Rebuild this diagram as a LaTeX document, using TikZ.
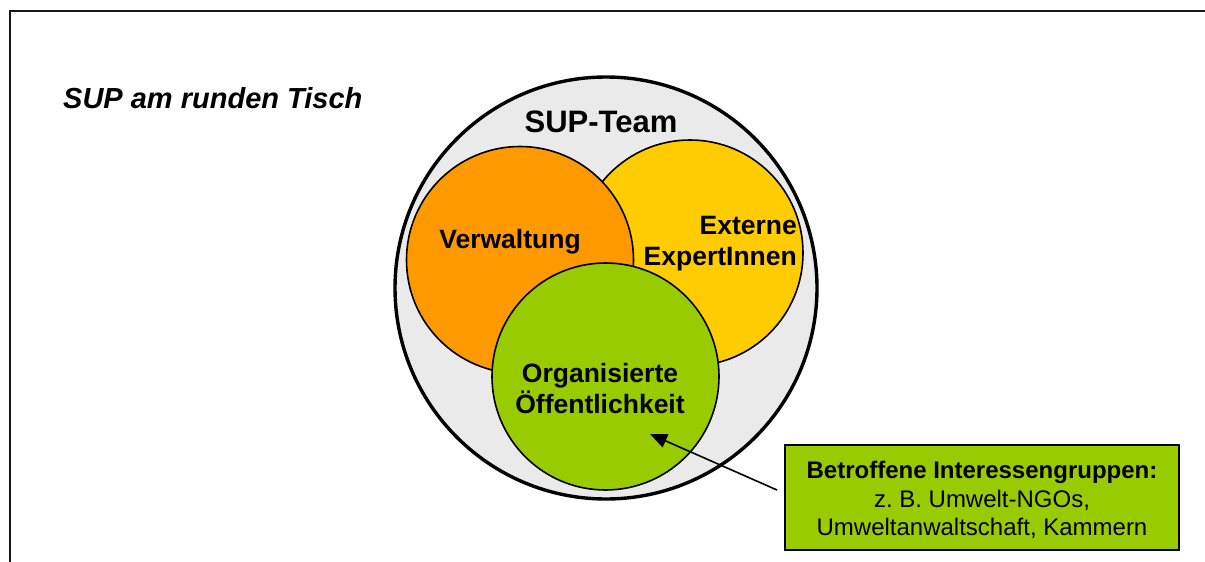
\documentclass[tikz,border=0pt]{standalone}
\usepackage{fontspec}
\setmainfont{Liberation Sans}
\usetikzlibrary{arrows.meta}
\frenchspacing
\definecolor{teamgray}{HTML}{EAEAEA}
\definecolor{vorange}{HTML}{FF9900}
\definecolor{eyellow}{HTML}{FFCC00}
\definecolor{ogreen}{HTML}{99CC00}
\tikzset{
  ring/.style={circle, draw=black, line width=1.6pt, inner sep=0pt, minimum size=#1},
  lbl/.style={font=\fontsize{26.5}{31}\selectfont\bfseries, inner sep=0pt},
  infobox/.style={draw=black, line width=2.4pt, fill=ogreen, minimum width=394pt, minimum height=105pt, inner sep=0pt},
  infotext/.style={font=\fontsize{24}{28.5}\selectfont, align=center, inner sep=0pt}
}
\begin{document}
\begin{tikzpicture}[x=1pt,y=-1pt]
\useasboundingbox (0,0) rectangle (1205,562);
\fill[white] (0,0) rectangle (1205,562);
\draw[line width=2.2pt, black!90] (10,11) rectangle (1230,600);
\node[font=\fontsize{29}{34}\selectfont\bfseries\itshape, anchor=base west, inner sep=0pt] (title) at (63,108) {SUP am runden Tisch};
% circles
\node[ring=422pt, fill=teamgray, line width=3.4pt] (team) at (606,288) {};
\node[ring=226pt, fill=eyellow] (ext) at (690,253) {};
\node[ring=227pt, fill=vorange] (verw) at (520,260) {};
\node[ring=227pt, fill=ogreen] (oeff) at (605.5,376.5) {};
% labels
\node[lbl, font=\fontsize{31}{36}\selectfont\bfseries, anchor=base] (teamlbl) at (601,132) {SUP-Team};
\node[lbl, anchor=base] (verwlbl) at (510,248) {Verwaltung};
\node[lbl, anchor=base east] (extlbl1) at (797,234) {Externe};
\node[lbl, anchor=base east] (extlbl2) at (797,265) {ExpertInnen};
\node[lbl, anchor=base] (oefflbl1) at (600,382) {Organisierte};
\node[lbl, anchor=base] (oefflbl2) at (600,413) {Öffentlichkeit};
% info box
\node[infobox] (box) at (982,497.5) {};
\node[infotext] (boxtext) at (982,500) {\textbf{Betroffene Interessengruppen:}\\z. B. Umwelt-NGOs,\\Umweltanwaltschaft, Kammern};
\coordinate (arrstart) at (777,490);
\coordinate (arrtip) at (650,434);
\draw[line width=1.6pt, -{Triangle[length=17pt,width=14pt]}] (arrstart) -- (arrtip);
\end{tikzpicture}
\end{document}
